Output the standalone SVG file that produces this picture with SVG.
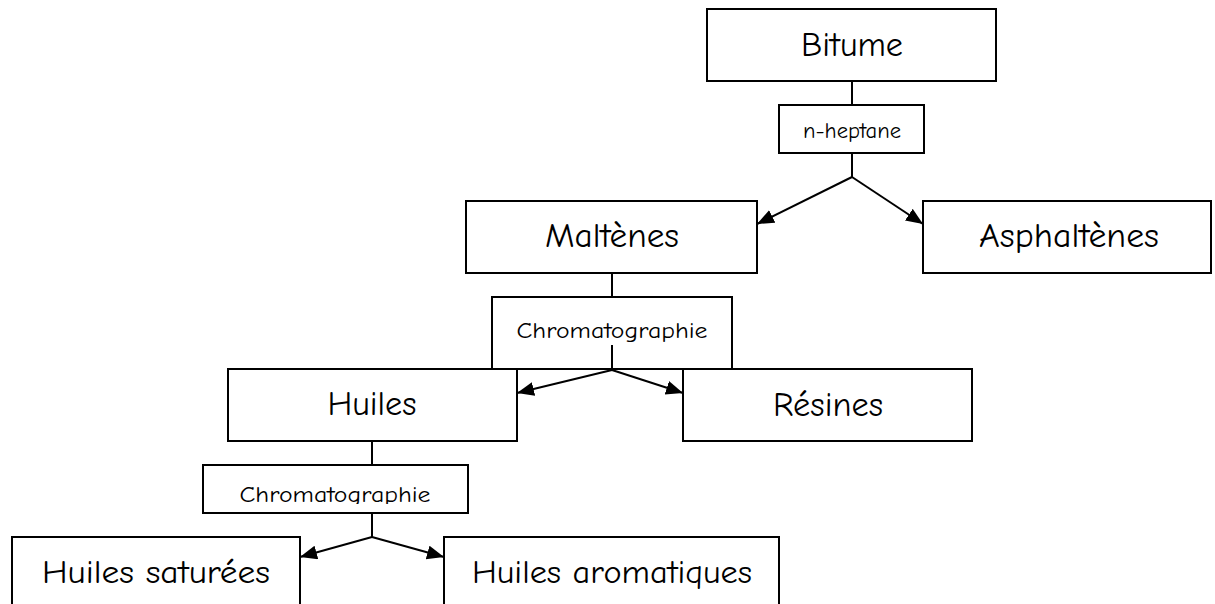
<svg xmlns="http://www.w3.org/2000/svg" width="1215" height="604" viewBox="0 0 1215 604">
<style>
.box{fill:#fff;stroke:#000;stroke-width:2}
.t{font-family:"Comic Neue","Liberation Sans","DejaVu Sans",sans-serif;fill:#000;text-anchor:middle}
.big{font-size:34px}
.small{font-size:23px}
.bot{font-size:32px}
.ln{fill:none;stroke:#000;stroke-width:2}
</style>
<defs>
<marker id="ah" markerUnits="userSpaceOnUse" markerWidth="20" markerHeight="16" refX="17" refY="7" orient="auto">
<path d="M0,0 L17,7 L0,14 z" fill="#000"/>
</marker>
<clipPath id="clipC2"><rect x="200" y="460" width="270" height="44"/></clipPath>
</defs>
<g id="bitume"><rect class="box" x="707" y="9" width="289" height="72"/><text class="t big" x="852" y="56" textLength="102" lengthAdjust="spacingAndGlyphs">Bitume</text></g>
<g id="nheptane"><rect class="box" x="779" y="105" width="145" height="48"/><text class="t small" x="852" y="138" textLength="98" lengthAdjust="spacingAndGlyphs">n-heptane</text></g>
<g id="maltenes"><rect class="box" x="466" y="201" width="291" height="72"/><text class="t big" x="612" y="247" textLength="134" lengthAdjust="spacingAndGlyphs">Maltènes</text></g>
<g id="asphaltenes"><rect class="box" x="923" y="201" width="288" height="72"/><text class="t big" x="1069" y="247" textLength="180" lengthAdjust="spacingAndGlyphs">Asphaltènes</text></g>
<g id="huiles"><rect class="box" x="228" y="369" width="289" height="72"/><text class="t big" x="372" y="415" textLength="89" lengthAdjust="spacingAndGlyphs">Huiles</text></g>
<g id="resines"><rect class="box" x="683" y="369" width="289" height="72"/><text class="t big" x="828" y="416" textLength="110" lengthAdjust="spacingAndGlyphs">Résines</text></g>
<g id="chromato1"><rect class="box" x="492" y="297" width="240" height="72"/><text class="t small" x="612" y="338" textLength="191" lengthAdjust="spacingAndGlyphs">Chromatographie</text></g>
<g id="chromato2"><rect class="box" x="203" y="465" width="265" height="48"/><text class="t small" x="335" y="502" textLength="191" lengthAdjust="spacingAndGlyphs" clip-path="url(#clipC2)">Chromatographie</text></g>
<g id="saturees"><rect class="box" x="12" y="537" width="288" height="90"/><text class="t bot" x="156" y="583" textLength="228" lengthAdjust="spacingAndGlyphs">Huiles saturées</text></g>
<g id="aromatiques"><rect class="box" x="444" y="537" width="335" height="90"/><text class="t bot" x="612" y="583" textLength="280" lengthAdjust="spacingAndGlyphs">Huiles aromatiques</text></g>
<g id="connectors">
<path class="ln" d="M852,81 V105"/>
<path class="ln" d="M852,153 V177"/>
<path class="ln" d="M852,177 L757,224" marker-end="url(#ah)"/>
<path class="ln" d="M852,177 L923,224" marker-end="url(#ah)"/>
<path class="ln" d="M612,273 V297"/>
<path class="ln" d="M612,345 V370"/>
<path class="ln" d="M612,370 L517,393" marker-end="url(#ah)"/>
<path class="ln" d="M612,370 L683,393" marker-end="url(#ah)"/>
<path class="ln" d="M372,441 V465"/>
<path class="ln" d="M372,513 V537"/>
<path class="ln" d="M372,537 L300,557" marker-end="url(#ah)"/>
<path class="ln" d="M372,537 L444,557" marker-end="url(#ah)"/>
</g>
</svg>
